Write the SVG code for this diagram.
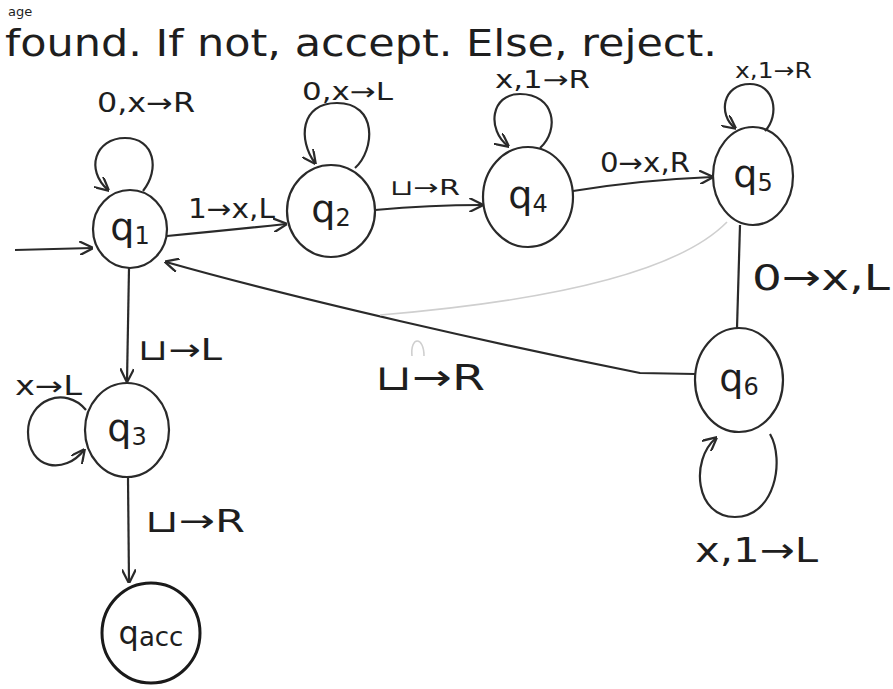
<svg xmlns="http://www.w3.org/2000/svg" width="893" height="689" viewBox="0 0 893 689">
<style>
.node{fill:none;stroke:#2a2a2a;stroke-width:2.2}
.acc{fill:none;stroke:#1a1a1a;stroke-width:3}
.edge{fill:none;stroke:#2a2a2a;stroke-width:2.2}
.faint{fill:none;stroke:#cfcfcf;stroke-width:1.6}
text{font-family:"DejaVu Sans","Liberation Sans",sans-serif;fill:#1e1e1e}
.nl{font-size:38px}
.sub{font-size:24px}
</style>
<defs>
<marker id="ah" viewBox="0 0 10 10" refX="9" refY="5" markerWidth="14" markerHeight="14" markerUnits="userSpaceOnUse" orient="auto">
<path d="M0,0 L10,5 L0,10" fill="none" stroke="#2a2a2a" stroke-width="1.6"/>
</marker>
</defs>
<rect width="893" height="689" fill="#ffffff"/>
<text x="8" y="16" font-size="13">age</text>
<text x="5" y="56" font-size="38" textLength="712" lengthAdjust="spacingAndGlyphs">found. If not, accept. Else, reject.</text>

<g id="connectors">
<path class="edge" d="M15,250 L92,248" marker-end="url(#ah)"/>
<path class="edge" d="M167,236 Q230,230 286,224" marker-end="url(#ah)"/>
<path class="edge" d="M375,210 Q430,205 482,205" marker-end="url(#ah)"/>
<path class="edge" d="M573,191 Q640,180 712,177" marker-end="url(#ah)"/>
<path class="edge" d="M740,225 L737,328"/>
<path class="edge" d="M695,374 L640,373 C500,345 300,300 166,262" marker-end="url(#ah)"/>
<path class="edge" d="M129,268 L127,381" marker-end="url(#ah)"/>
<path class="edge" d="M128,478 L129,582" marker-end="url(#ah)"/>
<path class="faint" d="M727,222 C680,270 560,300 380,315"/>
<path class="faint" d="M412,356 C410,336 424,336 424,356"/>
<path class="edge" d="M143,191 C160,170 155,138 125,138 C95,138 85,170 108,190" marker-end="url(#ah)"/>
<path class="edge" d="M355,168 C375,150 378,103 337,103 C300,103 298,140 315,163" marker-end="url(#ah)"/>
<path class="edge" d="M540,148 C560,130 555,94 520,94 C490,94 487,130 508,146" marker-end="url(#ah)"/>
<path class="edge" d="M765,131 C780,115 775,84 750,84 C722,84 718,115 735,128" marker-end="url(#ah)"/>
<path class="edge" d="M86,410 C65,385 28,400 28,432 C28,470 65,475 84,450" marker-end="url(#ah)"/>
<path class="edge" d="M770,434 C785,460 775,517 735,517 C695,517 690,460 716,438" marker-end="url(#ah)"/>
<text x="97" y="112" font-size="26" textLength="98" lengthAdjust="spacingAndGlyphs">0,x→R</text>
<text x="302" y="100" font-size="24" textLength="91" lengthAdjust="spacingAndGlyphs">0,x→L</text>
<text x="495" y="88" font-size="24" textLength="95" lengthAdjust="spacingAndGlyphs">x,1→R</text>
<text x="735" y="78" font-size="22" textLength="77" lengthAdjust="spacingAndGlyphs">x,1→R</text>
<text x="188" y="218" font-size="26" textLength="87" lengthAdjust="spacingAndGlyphs">1→x,L</text>
<text x="390" y="195" font-size="22" textLength="70" lengthAdjust="spacingAndGlyphs">⊔→R</text>
<text x="600" y="172" font-size="26" textLength="90" lengthAdjust="spacingAndGlyphs">0→x,R</text>
<text x="752" y="290" font-size="36" textLength="138" lengthAdjust="spacingAndGlyphs">0→x,L</text>
<text x="375" y="390" font-size="36" textLength="110" lengthAdjust="spacingAndGlyphs">⊔→R</text>
<text x="695" y="562" font-size="34" textLength="123" lengthAdjust="spacingAndGlyphs">x,1→L</text>
<text x="138" y="360" font-size="30" textLength="84" lengthAdjust="spacingAndGlyphs">⊔→L</text>
<text x="15" y="395" font-size="26" textLength="67" lengthAdjust="spacingAndGlyphs">x→L</text>
<text x="145" y="532" font-size="32" textLength="100" lengthAdjust="spacingAndGlyphs">⊔→R</text>
</g>

<g id="q1"><ellipse class="node" cx="130" cy="229" rx="37" ry="39"/><text x="130" y="240" text-anchor="middle" class="nl">q<tspan class="sub" dy="4">1</tspan></text></g>
<g id="q2"><ellipse class="node" cx="331" cy="211" rx="44" ry="46"/><text x="331" y="222" text-anchor="middle" class="nl">q<tspan class="sub" dy="4">2</tspan></text></g>
<g id="q4"><ellipse class="node" cx="528" cy="197" rx="45" ry="50"/><text x="528" y="208" text-anchor="middle" class="nl">q<tspan class="sub" dy="4">4</tspan></text></g>
<g id="q5"><ellipse class="node" cx="753" cy="176" rx="40" ry="49"/><text x="753" y="187" text-anchor="middle" class="nl">q<tspan class="sub" dy="4">5</tspan></text></g>
<g id="q6"><ellipse class="node" cx="739" cy="380" rx="44" ry="52"/><text x="739" y="391" text-anchor="middle" class="nl">q<tspan class="sub" dy="4">6</tspan></text></g>
<g id="q3"><ellipse class="node" cx="127" cy="430" rx="42" ry="47"/><text x="127" y="441" text-anchor="middle" class="nl">q<tspan class="sub" dy="4">3</tspan></text></g>
<g id="qacc"><ellipse class="acc" cx="151" cy="633" rx="49" ry="50"/><text x="151" y="644" text-anchor="middle" font-size="32">q<tspan font-size="26" dy="2">acc</tspan></text></g>
</svg>
